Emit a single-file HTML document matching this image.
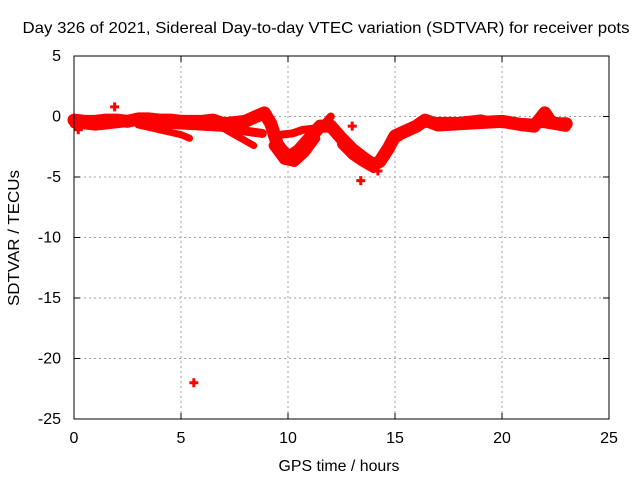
<!DOCTYPE html>
<html><head><meta charset="utf-8"><style>
body{margin:0;background:#fff;}
svg{display:block;font-family:"Liberation Sans",sans-serif;}
</style></head><body>
<svg id="chart" width="640" height="480">
<text x="326" y="33" font-size="16" text-anchor="middle" textLength="607" lengthAdjust="spacingAndGlyphs">Day 326 of 2021, Sidereal Day-to-day VTEC variation (SDTVAR) for receiver pots</text>
<text x="339" y="471" font-size="16" text-anchor="middle" textLength="121" lengthAdjust="spacingAndGlyphs">GPS time / hours</text>
<text transform="translate(19,238) rotate(-90)" font-size="16" text-anchor="middle" textLength="136" lengthAdjust="spacingAndGlyphs">SDTVAR / TECUs</text>
<g id="grid"></g><g id="marks"></g>
<rect x="74" y="56" width="535" height="363" fill="none" stroke="#000" stroke-width="1"/>
</svg>
<script>
const xTicks=[0,5,10,15,20,25];
const yTicks=[5,0,-5,-10,-15,-20,-25];
const mainHours=[0,0.5,1,1.5,2,2.5,3,3.5,4,4.5,5,5.5,6,6.5,7,7.5,8,8.5,8.9,9.2,9.5,9.8,10.1,10.5,11,11.5,12,12.5,13,13.5,14,14.3,14.7,15,15.5,16,16.4,17,18,19,20,21,21.5,22,22.3,22.7,23];
const mainValues=[-0.3,-0.4,-0.4,-0.3,-0.3,-0.4,-0.2,-0.2,-0.3,-0.3,-0.4,-0.4,-0.4,-0.3,-0.6,-0.5,-0.4,0,0.3,-0.6,-2.3,-3,-3.3,-2.8,-1.8,-0.8,-0.8,-1.8,-2.7,-3.4,-4,-3.7,-2.6,-1.6,-1.2,-0.8,-0.3,-0.7,-0.6,-0.5,-0.4,-0.7,-0.8,0.3,-0.5,-0.6,-0.6];
const band2Hours=[3,3.5,4,4.5,5,5.4];
const band2Values=[-0.7,-0.9,-1.1,-1.3,-1.5,-1.8];
const band3Hours=[6.5,7,7.5,8,8.4];
const band3Values=[-0.8,-1,-1.5,-2,-2.4];
const band4Hours=[9.7,10.2,10.7,11.2,11.7,12];
const band4Values=[-1.5,-1.4,-1.1,-1,-0.6,0];
const band5Hours=[9.3,9.8,10.3,10.8,11.3];
const band5Values=[-2.4,-3.6,-3.8,-3,-1.8];
const band6Hours=[0,1,2,3,4,5,6,7,8,8.8];
const band6Values=[-0.6,-0.8,-0.6,-0.4,-0.6,-0.7,-0.8,-0.9,-1.2,-1.4];
const band7Hours=[12.5,13,13.5,14,14.5,15,16,17,18,19,20,21,22,23];
const band7Values=[-2.3,-3.2,-3.8,-4.3,-3.2,-1.9,-0.7,-0.4,-0.4,-0.2,-0.6,-0.5,-0.6,-0.9];
const outlierHours=[5.6,13.4,13,1.9,0.2,14.2];
const outlierValues=[-22,-5.3,-0.8,0.8,-1.1,-4.5];
const X=h=>74+h*535/25, Y=v=>116.5-v*363/30;
const NS="http://www.w3.org/2000/svg";
const grid=document.getElementById('grid'), marks=document.getElementById('marks');
xTicks.forEach(t=>{
 const x=X(t);
 if(t>0&&t<25){const l=document.createElementNS(NS,'line');
 
 
 l.setAttribute('x1',x);l.setAttribute('x2',x);l.setAttribute('y1',56);l.setAttribute('y2',419);l.setAttribute('stroke','#a0a0a0');l.setAttribute('stroke-dasharray','2,3');grid.appendChild(l);}
 const k=document.createElementNS(NS,'path');
 
 
 k.setAttribute('d',`M${x},419v-6M${x},56v6`);k.setAttribute('stroke','#000');grid.appendChild(k);
 const tx=document.createElementNS(NS,'text');
 
 
 tx.setAttribute('x',x);tx.setAttribute('y',443);tx.setAttribute('font-size','16');tx.setAttribute('text-anchor','middle');tx.textContent=t;grid.appendChild(tx);
});
yTicks.forEach(t=>{
 const y=Y(t);
 if(t<5&&t>-25){const l=document.createElementNS(NS,'line');
 
 
 l.setAttribute('x1',74);l.setAttribute('x2',609);l.setAttribute('y1',y);l.setAttribute('y2',y);l.setAttribute('stroke','#a0a0a0');l.setAttribute('stroke-dasharray','2,3');grid.appendChild(l);}
 const k=document.createElementNS(NS,'path');
 
 
 k.setAttribute('d',`M74,${y}h6M609,${y}h-6`);k.setAttribute('stroke','#000');grid.appendChild(k);
 const tx=document.createElementNS(NS,'text');
 
 
 tx.setAttribute('x',61);tx.setAttribute('y',y+5);tx.setAttribute('font-size','16');tx.setAttribute('text-anchor','end');tx.textContent=t;grid.appendChild(tx);
});
function band(hs,vs,w,name){
 const p=document.createElementNS(NS,'polyline');
 
 
 p.setAttribute('points',hs.map((h,i)=>X(h)+','+Y(vs[i])).join(' '));
 p.setAttribute('fill','none');p.setAttribute('stroke','#f00');p.setAttribute('stroke-width',w);p.setAttribute('stroke-linejoin','round');p.setAttribute('stroke-linecap','round');
 marks.appendChild(p);
}
band(mainHours,mainValues,13,'sdtvar-main-band');
band(band6Hours,band6Values,9,'sdtvar-band-6');
band(band7Hours,band7Values,9,'sdtvar-band-7');
band(band2Hours,band2Values,7,'sdtvar-band-2');
band(band3Hours,band3Values,7,'sdtvar-band-3');
band(band4Hours,band4Values,8,'sdtvar-band-4');
band(band5Hours,band5Values,9,'sdtvar-band-5');
outlierHours.forEach((h,i)=>{
 const x=X(h),y=Y(outlierValues[i]);
 const p=document.createElementNS(NS,'path');
 
 
 p.setAttribute('d',`M${x-4.5},${y}h9M${x},${y-4.5}v9`);p.setAttribute('stroke','#f00');p.setAttribute('stroke-width','3');
 marks.appendChild(p);
});
</script>
</body></html>
